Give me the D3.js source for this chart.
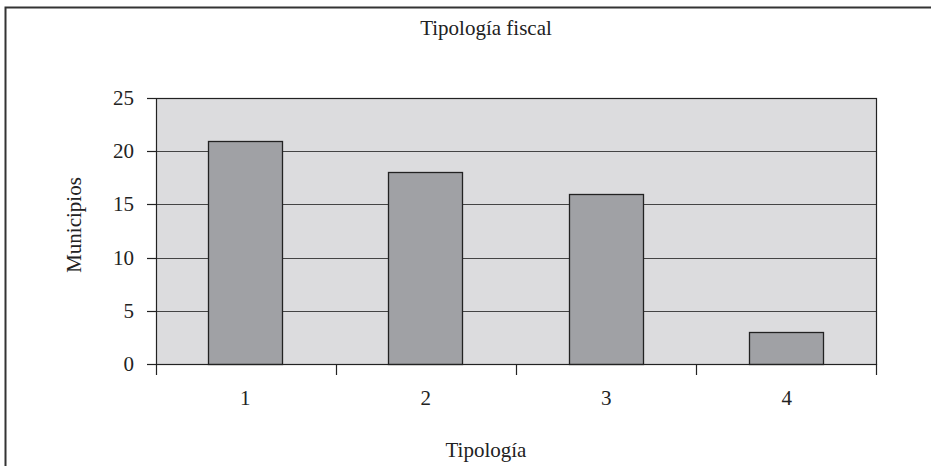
<!DOCTYPE html>
<html>
<head>
<meta charset="utf-8">
<script src="https://cdn.jsdelivr.net/npm/d3@7"></script>
<style>
  body { margin: 0; background: #fff; }
  svg text { font-family: "Liberation Serif", "DejaVu Serif", serif; fill: #222; }
</style>
</head>
<body>
<svg id="chart" width="931" height="466"></svg>
<script>
// data
var categories = ["1", "2", "3", "4"];
var municipios = [21, 18, 16, 3];
var yTicks = [0, 5, 10, 15, 20, 25];

var svg = d3.select("#chart");
var plotLeft = 156, plotRight = 876, plotTop = 98, plotBottom = 364;

// outer frame (only top and left edges show in the picture)
svg.append("rect").attr("x", 5.5).attr("y", 7.5).attr("width", 1000).attr("height", 1000)
    .style("fill", "none").style("stroke", "#333").style("stroke-width", 2);

var x = d3.scaleBand().domain(categories).range([plotLeft, plotRight]).paddingInner(0.59).paddingOuter(0.29);
var xTickScale = d3.scaleLinear().domain([0, categories.length]).range([plotLeft, plotRight]);
var y = d3.scaleLinear().domain([0, 25]).range([plotBottom, plotTop]);

// plot background
svg.append("rect").attr("x", plotLeft).attr("y", plotTop).attr("width", plotRight - plotLeft).attr("height", plotBottom - plotTop)
    .style("fill", "#dcdcde");

// grid lines
svg.selectAll(".grid").data(yTicks.slice(1, -1)).enter().append("line")
    .attr("x1", plotLeft).attr("x2", plotRight)
    .attr("y1", function (d) { return Math.round(y(d)) + 0.5; })
    .attr("y2", function (d) { return Math.round(y(d)) + 0.5; })
    .style("stroke", "#444").style("stroke-width", 1.2);

// bars
svg.selectAll(".bar").data(municipios).enter().append("rect")
    .attr("x", function (d, i) { return Math.floor(x(categories[i])) + 0.5; })
    .attr("y", function (d) { return Math.round(y(d)) + 0.5; })
    .attr("width", Math.round(x.bandwidth()))
    .attr("height", function (d) { return Math.round(plotBottom - y(d)); })
    .style("fill", "#a0a1a5").style("stroke", "#222").style("stroke-width", 1.3);

// plot border
svg.append("rect").attr("x", plotLeft + 0.5).attr("y", plotTop + 0.5).attr("width", plotRight - plotLeft).attr("height", plotBottom - plotTop)
    .style("fill", "none").style("stroke", "#222").style("stroke-width", 1.2);

// y axis ticks + labels
svg.selectAll(".ytick").data(yTicks).enter().append("line")
    .attr("x1", plotLeft - 9).attr("x2", plotLeft)
    .attr("y1", function (d) { return Math.round(y(d)) + 0.5; })
    .attr("y2", function (d) { return Math.round(y(d)) + 0.5; })
    .style("stroke", "#222").style("stroke-width", 1.2);
svg.selectAll(".ylab").data(yTicks).enter().append("text")
    .text(function (d) { return d; })
    .attr("x", 134).attr("y", function (d) { return y(d) + 7; })
    .style("text-anchor", "end").style("font-size", "21px");

// x axis ticks at category boundaries
svg.selectAll(".xtick").data(d3.range(categories.length + 1)).enter().append("line")
    .attr("x1", function (d) { return Math.round(xTickScale(d)) + 0.5; })
    .attr("x2", function (d) { return Math.round(xTickScale(d)) + 0.5; })
    .attr("y1", plotBottom).attr("y2", plotBottom + 11)
    .style("stroke", "#222").style("stroke-width", 1.2);
svg.selectAll(".xlab").data(categories).enter().append("text")
    .text(function (d) { return d; })
    .attr("x", function (d) { return x(d) + x.bandwidth() / 2; })
    .attr("y", 405)
    .style("text-anchor", "middle").style("font-size", "21px");

// titles
svg.append("text").text("Tipología fiscal").attr("x", 486).attr("y", 35)
    .style("text-anchor", "middle").style("font-size", "21px");
svg.append("text").text("Tipología").attr("x", 486).attr("y", 457)
    .style("text-anchor", "middle").style("font-size", "21px");
svg.append("text").text("Municipios")
    .attr("transform", "translate(81,225) rotate(-90)")
    .style("text-anchor", "middle").style("font-size", "21px");
</script>
</body>
</html>
